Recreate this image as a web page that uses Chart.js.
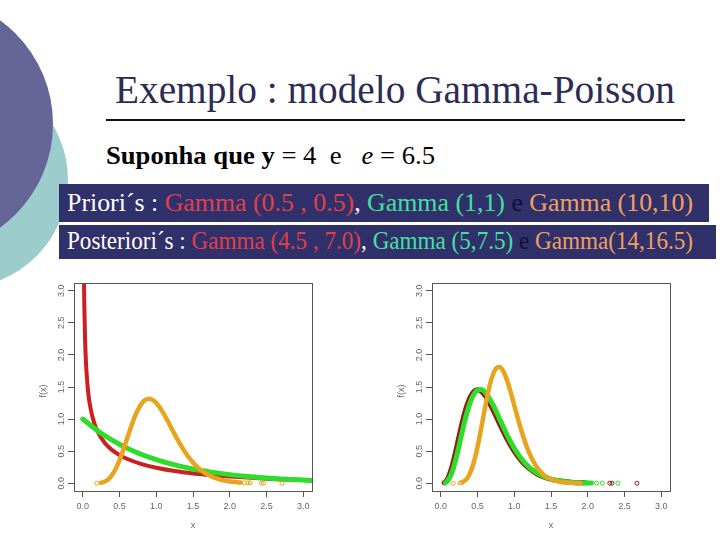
<!DOCTYPE html>
<html><head><meta charset="utf-8">
<script src="https://cdn.jsdelivr.net/npm/chart.js@4.4.0/dist/chart.umd.min.js"></script>
<style>
html,body{margin:0;padding:0;background:#fff;}
#slide{position:relative;width:720px;height:540px;overflow:hidden;background:#fff;font-family:"Liberation Serif","Times New Roman",serif;}
.circ{position:absolute;border-radius:50%;}
#teal{left:-148px;top:72px;width:216px;height:216px;background:#9ccccc;}
#purple{left:-203px;top:-4px;width:256px;height:256px;background:#656598;}
.txt{position:absolute;white-space:nowrap;line-height:1;transform-origin:0 0;}
#title{left:115px;top:70px;font-size:39px;color:#2c2c55;}
#rule{position:absolute;left:106px;top:119px;width:579px;height:2px;background:#111;}
#sup{left:106px;top:143px;font-size:26px;color:#000;}
.box{position:absolute;background:#30306a;}
#box1{left:59px;top:184px;width:650px;height:38px;}
#box2{left:59px;top:225px;width:657px;height:34px;}
#l1{left:67px;top:190px;font-size:26px;color:#fff;}
#l2{left:67px;top:228px;font-size:25px;color:#fff;}
.r{color:#e0404a;} .g{color:#44e0a0;} .o{color:#f0a060;} .d{color:#111133;}
canvas{position:absolute;}
#c1{left:30px;top:270px;}
#c2{left:388px;top:270px;}
</style></head>
<body>
<div id="slide">
  <div id="teal" class="circ"></div>
  <div id="purple" class="circ"></div>
  <div id="title" class="txt" data-w="560">Exemplo : modelo Gamma-Poisson</div>
  <div id="rule"></div>
  <div id="sup" class="txt" data-w="329"><b>Suponha que y</b> = 4&nbsp; e &nbsp; <i>e</i> = 6.5</div>
  <div id="box1" class="box"></div>
  <div id="box2" class="box"></div>
  <div id="l1" class="txt" data-w="626">Priori´s : <span class="r">Gamma (0.5 , 0.5)</span>, <span class="g">Gamma (1,1)</span><span class="d"> e </span><span class="o">Gamma (10,10)</span></div>
  <div id="l2" class="txt" data-w="626">Posteriori´s : <span class="r">Gamma (4.5 , 7.0)</span>, <span class="g">Gamma (5,7.5)</span><span class="d"> e </span><span class="o">Gamma(14,16.5)</span></div>
  <canvas id="c1" width="300" height="270"></canvas>
  <canvas id="c2" width="300" height="270"></canvas>
</div>
<script>
// ---- axis ticks ----
const tickValues = [0, 0.5, 1, 1.5, 2, 2.5, 3];
const tickLabels = ["0.0", "0.5", "1.0", "1.5", "2.0", "2.5", "3.0"];
const AXIS_MIN = -0.12, AXIS_MAX = 3.12;

// ---- Priori (left plot) ----
// Gamma(0.5, 0.5)
const priorRedX = [0.012, 0.015, 0.02, 0.03, 0.04, 0.05, 0.075, 0.1, 0.15, 0.2, 0.3, 0.4, 0.5, 0.6, 0.8, 1.0, 1.25, 1.5, 1.75, 2.0, 2.5, 3.0];
const priorRedY = [3.62, 3.23, 2.79, 2.27, 1.96, 1.74, 1.40, 1.20, 0.956, 0.807, 0.627, 0.516, 0.439, 0.382, 0.299, 0.242, 0.191, 0.154, 0.126, 0.104, 0.072, 0.051];
// Gamma(1, 1)
const priorGreenX = [0, 0.25, 0.5, 0.75, 1.0, 1.25, 1.5, 1.75, 2.0, 2.25, 2.5, 2.75, 3.0, 3.15];
const priorGreenY = [1.0, 0.779, 0.607, 0.472, 0.368, 0.287, 0.223, 0.174, 0.135, 0.105, 0.082, 0.064, 0.050, 0.043];
// Gamma(10, 10)
const priorOrangeX = [0.25, 0.3, 0.35, 0.4, 0.45, 0.5, 0.55, 0.6, 0.65, 0.7, 0.75, 0.8, 0.85, 0.9, 0.95, 1.0, 1.05, 1.1, 1.15, 1.2, 1.25, 1.3, 1.35, 1.4, 1.45, 1.5, 1.55, 1.6, 1.65, 1.7, 1.75, 1.8, 1.9, 2.0, 2.1, 2.15];
const priorOrangeY = [0.009, 0.027, 0.066, 0.132, 0.232, 0.363, 0.519, 0.688, 0.858, 1.014, 1.144, 1.241, 1.299, 1.318, 1.300, 1.251, 1.177, 1.085, 0.982, 0.874, 0.765, 0.661, 0.563, 0.473, 0.394, 0.324, 0.264, 0.213, 0.171, 0.135, 0.107, 0.083, 0.050, 0.029, 0.017, 0.012];
const priorOrangeDotsX = [0.19, 2.2, 2.25, 2.28, 2.43, 2.46, 2.71];
const priorOrangeDotsY = [0.001, 0.009, 0.007, 0.006, 0.002, 0.002, 0.0005];

// ---- Posteriori (right plot) ----
// Gamma(4.5, 7.0)
const postRedX = [0.045, 0.07, 0.1, 0.15, 0.2, 0.25, 0.3, 0.35, 0.4, 0.45, 0.5, 0.55, 0.6, 0.7, 0.8, 0.9, 1.0, 1.1, 1.2, 1.3, 1.4, 1.5, 1.6, 1.8, 1.95];
const postRedY = [0.008, 0.030, 0.086, 0.250, 0.482, 0.741, 0.989, 1.195, 1.344, 1.431, 1.458, 1.434, 1.370, 1.167, 0.925, 0.694, 0.498, 0.345, 0.232, 0.153, 0.098, 0.062, 0.039, 0.014, 0.007];
const postRedDotsX = [1.98, 2.3, 2.33, 2.67];
const postRedDotsY = [0.006, 0.002, 0.002, 0.0005];
// Gamma(5, 7.5)
const postGreenX = [0.06, 0.1, 0.15, 0.2, 0.25, 0.3, 0.35, 0.4, 0.45, 0.5, 0.55, 0.6, 0.7, 0.8, 0.9, 1.0, 1.1, 1.2, 1.3, 1.4, 1.5, 1.6, 1.8, 2.05];
const postGreenY = [0.008, 0.047, 0.163, 0.353, 0.592, 0.844, 1.075, 1.260, 1.387, 1.453, 1.462, 1.424, 1.246, 1.004, 0.760, 0.547, 0.378, 0.253, 0.165, 0.105, 0.065, 0.040, 0.014, 0.004];
const postGreenDotsX = [2.12, 2.2, 2.41];
const postGreenDotsY = [0.003, 0.002, 0.001];
// Gamma(14, 16.5)
const postOrangeX = [0.3, 0.35, 0.4, 0.45, 0.5, 0.55, 0.6, 0.65, 0.7, 0.75, 0.8, 0.85, 0.9, 0.95, 1.0, 1.05, 1.1, 1.2, 1.3, 1.4, 1.5, 1.6, 1.7, 1.8, 1.9];
const postOrangeY = [0.020, 0.065, 0.162, 0.329, 0.568, 0.859, 1.167, 1.447, 1.662, 1.786, 1.811, 1.746, 1.608, 1.423, 1.215, 1.004, 0.806, 0.480, 0.261, 0.131, 0.062, 0.027, 0.012, 0.005, 0.002];
const postOrangeDotsX = [0.17, 0.26, 0.28];
const postOrangeDotsY = [0.0002, 0.006, 0.011];

// fit text lines horizontally to measured widths
document.querySelectorAll('.txt[data-w]').forEach(el => {
  const w = el.getBoundingClientRect().width;
  const target = +el.dataset.w;
  el.style.transform = 'scaleX(' + (target / w) + ')';
});

const pts = (xs, ys) => xs.map((x, i) => ({x: x, y: ys[i]}));
function curve(xs, ys, color, width, order) {
  return {data: pts(xs, ys), showLine: true, borderColor: color, borderWidth: width,
    pointRadius: 0, cubicInterpolationMode: 'monotone', borderCapStyle: 'round',
    borderJoinStyle: 'round', clip: 0, order: order};
}
function dots(xs, ys, color, order) {
  return {data: pts(xs, ys), showLine: false, pointRadius: 2, pointStyle: 'circle',
    pointBackgroundColor: 'rgba(0,0,0,0)', pointBorderColor: color, pointBorderWidth: 1,
    clip: 0, order: order};
}

const rFrame = {
  id: 'rFrame',
  afterDraw(chart) {
    const ctx = chart.ctx, a = chart.chartArea, ys = chart.scales.y;
    ctx.save();
    ctx.strokeStyle = '#555'; ctx.lineWidth = 1;
    ctx.strokeRect(Math.round(a.left) + 0.5, Math.round(a.top) + 0.5, Math.round(a.right - a.left), Math.round(a.bottom - a.top));
    ctx.fillStyle = '#666';
    ctx.font = '9px "Liberation Sans", Arial, sans-serif';
    ctx.textAlign = 'center'; ctx.textBaseline = 'middle';
    ys.ticks.forEach((t, i) => {
      const py = ys.getPixelForValue(t.value);
      ctx.save(); ctx.translate(a.left - 12.5, py); ctx.rotate(-Math.PI / 2);
      ctx.fillText(tickLabels[i], 0, 0); ctx.restore();
    });
    ctx.save(); ctx.translate(a.left - 30, (a.top + a.bottom) / 2 + 4); ctx.rotate(-Math.PI / 2);
    ctx.fillText('f(x)', 0, 0); ctx.restore();
    ctx.fillText('x', (a.left + a.right) / 2, a.bottom + 35);
    ctx.restore();
  }
};

function makeChart(id, datasets) {
  return new Chart(document.getElementById(id), {
    type: 'scatter',
    data: {datasets: datasets},
    options: {
      responsive: false, animation: false, devicePixelRatio: 1,
      layout: {padding: {left: 0, top: 13, right: 18, bottom: 0}},
      plugins: {legend: {display: false}, tooltip: {enabled: false}},
      scales: {
        x: {type: 'linear', min: AXIS_MIN, max: AXIS_MAX,
          afterBuildTicks: s => { s.ticks = tickValues.map(v => ({value: v})); },
          afterFit: s => { s.height = 49; },
          grid: {drawOnChartArea: false, drawTicks: true, tickLength: 6, tickColor: '#555'},
          border: {display: true, color: '#555'},
          ticks: {font: {family: 'Liberation Sans', size: 9}, color: '#666', padding: 4,
            maxRotation: 0, minRotation: 0, autoSkip: false,
            callback: (v, i) => tickLabels[i]}},
        y: {type: 'linear', min: AXIS_MIN, max: AXIS_MAX,
          afterBuildTicks: s => { s.ticks = tickValues.map(v => ({value: v})); },
          afterFit: s => { s.width = 44; },
          grid: {drawOnChartArea: false, drawTicks: true, tickLength: 6, tickColor: '#555'},
          border: {display: true, color: '#555'},
          ticks: {display: false}}
      }
    },
    plugins: [rFrame]
  });
}

makeChart('c1', [
  curve(priorOrangeX, priorOrangeY, '#e8a41c', 4.5, 0),
  dots(priorOrangeDotsX, priorOrangeDotsY, '#e8a41c', 0),
  curve(priorGreenX, priorGreenY, '#2edc2a', 5, 1),
  curve(priorRedX, priorRedY, '#cc1f1f', 4, 2)
]);
makeChart('c2', [
  curve(postOrangeX, postOrangeY, '#e8a41c', 4.5, 0),
  dots(postOrangeDotsX, postOrangeDotsY, '#e8a41c', 0),
  curve(postGreenX, postGreenY, '#2edc2a', 5, 1),
  dots(postGreenDotsX, postGreenDotsY, '#2edc2a', 1),
  curve(postRedX, postRedY, '#8e1c12', 5, 2),
  dots(postRedDotsX, postRedDotsY, '#8e1c12', 2)
]);
</script>
</body></html>
